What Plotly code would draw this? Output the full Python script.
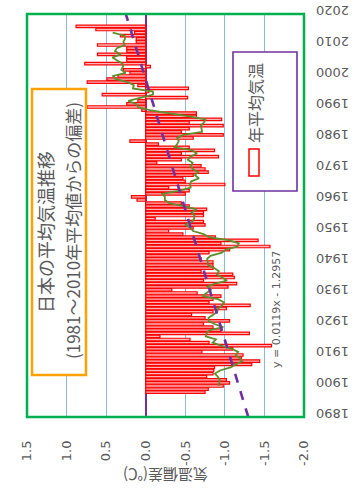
import plotly.graph_objects as go
import pandas as pd

# Annual mean temperature anomaly in Japan (deviation from the 1981-2010 mean, degC)
years = list(range(1898, 2017))
anomaly = [
    -0.75, -0.79, -0.98, -1.06, -1.02, -0.77, -0.85, -0.86, -0.87, -1.34,   # 1898-1907
    -1.44, -1.21, -1.23, -0.71, -1.10, -1.59, -0.80, -0.56, -0.18, -1.31,   # 1908-1917
    -0.95, -0.85, -0.73, -1.06, -0.75, -0.58, -0.85, -1.02, -1.32, -0.80,   # 1918-1927
    -0.85, -0.95, -0.65, -0.33, -1.04, -1.15, -0.73, -1.12, -1.10, -0.70,   # 1928-1937
    -0.85, -0.85, -0.85, -0.70, -0.68, -0.80, -1.06, -1.57, -0.95, -1.42,   # 1938-1947
    -0.88, -0.47, -0.29, -0.60, -0.75, -0.73, -0.12, -0.73, -0.73, -0.77,   # 1948-1957
    -0.55, -0.45, 0.11, 0.18, -0.50, -0.55, -0.29, -1.00, -0.50, -0.47,     # 1958-1967
    -0.60, -0.79, -0.75, -0.70, -0.14, -0.45, -0.92, -0.45, -0.87, -0.55,   # 1968-1977
    -0.16, 0.20, -0.60, -0.98, -0.45, -0.55, -0.98, -0.55, -0.96, -0.64,    # 1978-1987
    -0.64, 0.05, 0.74, 0.24, 0.10, -0.53, 0.55, -0.04, -0.54, 0.10,         # 1988-1997
    0.74, 0.49, 0.35, 0.20, 0.28, -0.06, 0.77, 0.24, 0.24, 0.61,            # 1998-2007
    0.24, 0.24, 0.61, 0.12, 0.12, 0.32, 0.14, 0.63, 0.88,                   # 2008-2016
]

year_ticks = list(range(1890, 2021, 10))
year_tick_labels = [str(y) for y in year_ticks]
temp_ticks = [1.5, 1.0, 0.5, 0.0, -0.5, -1.0, -1.5, -2.0]
temp_tick_labels = ["1.5", "1.0", "0.5", "0.0", "-0.5", "-1.0", "-1.5", "-2.0"]

# Linear trend  y = 0.0119x - 1.2957  (x counted in years from 1890)
trend_slope = 0.0119
trend_intercept = -1.2957
trend_origin = 1890
trend_years = [1890, 2020]
trend_values = [trend_intercept + trend_slope * (y - trend_origin) for y in trend_years]

# 5-year centred running mean
ma5 = pd.Series(anomaly).rolling(5, center=True).mean().tolist()

W, H = 354, 495
L, R, T, B = 27, 304, 14, 417   # plot area in pixels


def px(x):
    return (x - L) / (R - L)


def py(y):
    return (B - y) / (B - T)


GREY = "#595959"
JP = "Noto Sans CJK JP"
NUM = "DejaVu Sans"

fig = go.Figure()

fig.add_trace(go.Bar(
    x=anomaly, y=years, orientation="h", width=0.8,
    marker=dict(color="#FFB4B4", line=dict(color="#FF0000", width=1.2)),
    showlegend=False, hoverinfo="skip",
))

fig.add_trace(go.Scatter(
    x=ma5, y=years, mode="lines",
    line=dict(color="#5E8E2E", width=1.8),
    showlegend=False, hoverinfo="skip",
))

fig.add_trace(go.Scatter(
    x=trend_values, y=trend_years, mode="lines",
    line=dict(color="#7030A0", width=2.6, dash="dash"),
    showlegend=False, hoverinfo="skip",
))

shapes = [
    # plot frame
    dict(type="rect", xref="paper", yref="paper", x0=0, x1=1, y0=0, y1=1,
         line=dict(color="#00B050", width=2.5), layer="above"),
    # title box
    dict(type="rect", xref="paper", yref="paper",
         x0=px(32), x1=px(86), y0=py(375), y1=py(89),
         line=dict(color="#FFA200", width=2.5), fillcolor="white", layer="above"),
    # legend box
    dict(type="rect", xref="paper", yref="paper",
         x0=px(233), x1=px(297), y0=py(191), y1=py(52),
         line=dict(color="#7030A0", width=1.6), fillcolor="white", layer="above"),
    # legend swatch
    dict(type="rect", xref="paper", yref="paper",
         x0=px(249), x1=px(259), y0=py(176), y1=py(149),
         line=dict(color="#FF0000", width=1.5), fillcolor="white", layer="above"),
]

annotations = [
    dict(text="日本の平均気温推移", x=px(45), y=py(232), xref="paper", yref="paper",
         textangle=-90, showarrow=False, xanchor="center", yanchor="middle",
         font=dict(family=JP, size=18, color=GREY)),
    dict(text="(1981〜2010年平均値からの偏差)", x=px(72), y=py(231), xref="paper", yref="paper",
         textangle=-90, showarrow=False, xanchor="center", yanchor="middle",
         font=dict(family=JP, size=17, color=GREY)),
    dict(text="年平均気温", x=px(255), y=py(103), xref="paper", yref="paper",
         textangle=-90, showarrow=False, xanchor="center", yanchor="middle",
         font=dict(family=JP, size=16, color=GREY)),
    dict(text="y = 0.0119x - 1.2957", x=px(276), y=py(310), xref="paper", yref="paper",
         textangle=-90, showarrow=False, xanchor="center", yanchor="middle",
         font=dict(family=NUM, size=11, color=GREY)),
    dict(text="気温偏差(℃)", x=px(165.5), y=py(476), xref="paper", yref="paper",
         textangle=180, showarrow=False, xanchor="center", yanchor="middle",
         font=dict(family=JP, size=15, color=GREY)),
]

fig.update_layout(
    width=W, height=H,
    margin=dict(l=L, r=W - R, t=T, b=H - B, pad=0, autoexpand=False),
    paper_bgcolor="white", plot_bgcolor="white",
    showlegend=False,
    shapes=shapes, annotations=annotations,
    xaxis=dict(
        range=[1.5, -2.0], tickvals=temp_ticks, ticktext=temp_tick_labels,
        tickangle=-90, ticklabelstandoff=20, automargin=False,
        tickfont=dict(family=NUM, size=13, color=GREY),
        showgrid=True, gridcolor="#8DB6E2", gridwidth=1,
        zeroline=True, zerolinecolor="#7030A0", zerolinewidth=1.6,
        showline=False, ticks="", fixedrange=True,
    ),
    yaxis=dict(
        range=[1890, 2020], side="right", tickvals=year_ticks, ticktext=year_tick_labels,
        tickangle=180, ticklabelstandoff=44, automargin=False,
        tickfont=dict(family=NUM, size=13, color=GREY),
        showgrid=False, zeroline=False, showline=False, ticks="", fixedrange=True,
    ),
)

fig.write_html("out.html")
